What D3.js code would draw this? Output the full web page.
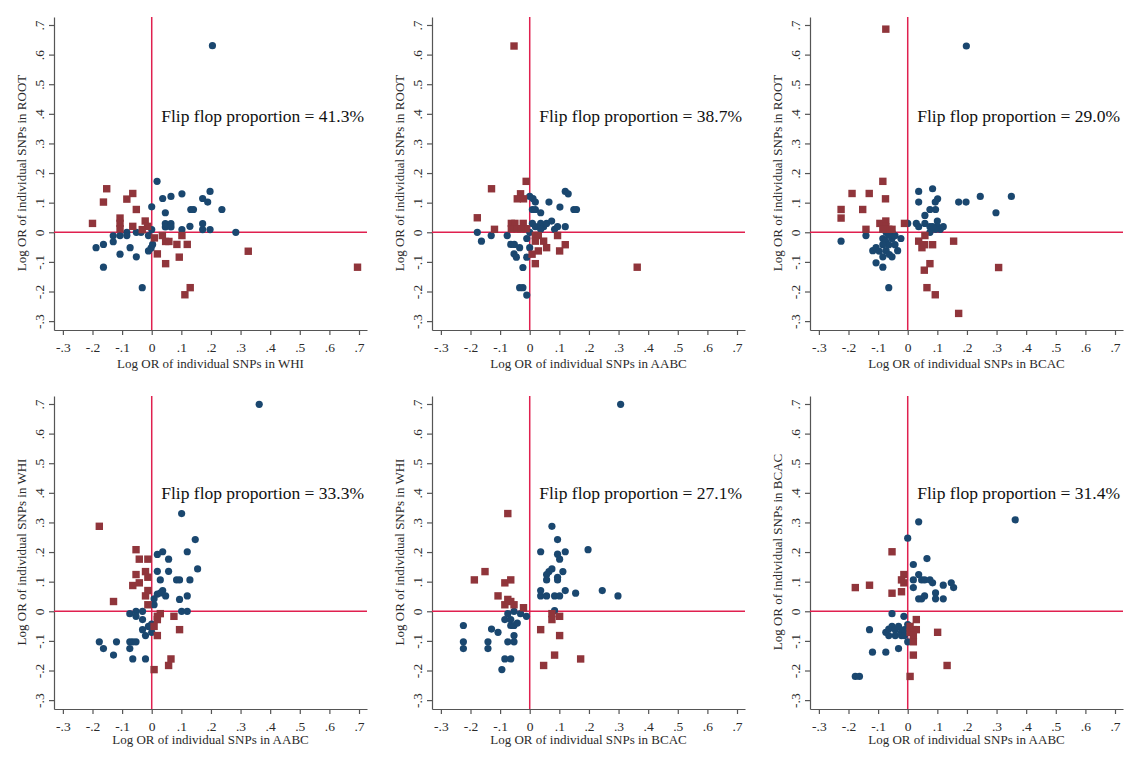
<!DOCTYPE html>
<html><head><meta charset="utf-8">
<script src="https://cdn.jsdelivr.net/npm/d3@7"></script>
<style>
html,body{margin:0;padding:0;background:#fff;}
svg text{font-family:"Liberation Serif","Times New Roman",serif;}
</style></head>
<body>
<svg id="chart" width="1136" height="758"></svg>
<script>
// ---- data ----
const tickValues = [-0.3,-0.2,-0.1,0,0.1,0.2,0.3,0.4,0.5,0.6,0.7];
const tickLabels = ["-.3","-.2","-.1","0",".1",".2",".3",".4",".5",".6",".7"];
const xTitles = ["Log OR of individual SNPs in WHI","Log OR of individual SNPs in AABC","Log OR of individual SNPs in BCAC",
                 "Log OR of individual SNPs in AABC","Log OR of individual SNPs in BCAC","Log OR of individual SNPs in AABC"];
const yTitles = ["Log OR of individual SNPs in ROOT","Log OR of individual SNPs in ROOT","Log OR of individual SNPs in ROOT",
                 "Log OR of individual SNPs in WHI","Log OR of individual SNPs in WHI","Log OR of individual SNPs in BCAC"];
const flipLabels = ["Flip flop proportion = 41.3%","Flip flop proportion = 38.7%","Flip flop proportion = 29.0%",
                    "Flip flop proportion = 33.3%","Flip flop proportion = 27.1%","Flip flop proportion = 31.4%"];

const p1Blue = [[0.205,0.63],[0.018,0.172],[0.037,0.114],[0.065,0.121],[0.102,0.13],[0,0.086],[0.046,0.066],[0.172,0.114],[0.189,0.102],[0.197,0.138],[0.237,0.077],[0.132,0.077],[0.141,0.077],[0.046,0.029],[0.065,0.029],[0.046,0.018],[0.065,0.018],[0.102,0.009],[0.129,0.02],[0.172,0.029],[0.172,0.009],[0.197,0.009],[0.284,0],[0,0.009],[-0.188,-0.052],[-0.163,-0.041],[-0.163,-0.118],[-0.13,-0.012],[-0.13,-0.032],[-0.107,-0.011],[-0.107,-0.074],[-0.084,0],[-0.084,-0.011],[-0.073,-0.052],[-0.052,-0.083],[-0.052,0],[-0.036,0],[-0.011,-0.011],[-0.011,-0.063],[-0.002,-0.053],[0.003,-0.041],[-0.032,-0.187]];
const p1Red = [[-0.152,0.147],[-0.163,0.102],[-0.2,0.03],[-0.064,0.131],[-0.084,0.112],[-0.052,0.077],[-0.107,0.048],[-0.107,0.03],[-0.107,0.012],[-0.064,0.02],[-0.022,0.038],[-0.014,0.02],[-0.032,0.009],[0.009,-0.019],[0.036,-0.011],[0.047,-0.031],[0.058,-0.031],[0.102,-0.011],[0.085,-0.041],[0.12,-0.041],[0.019,-0.073],[0.093,-0.084],[0.047,-0.106],[0.13,-0.187],[0.112,-0.211],[0.326,-0.064],[0.695,-0.118]];

const p2Blue = [[0,0.121],[0.011,0.114],[0.019,0.102],[0.065,0.102],[0.102,0.085],[0.12,0.138],[0.13,0.13],[0.149,0.077],[0.158,0.077],[0.009,0.077],[0.019,0.077],[0.037,0.066],[0.009,0.03],[0.019,0.019],[0.037,0.03],[0.047,0.019],[0.057,0.03],[0.074,0.038],[0.084,0.01],[0.094,0.019],[0.12,0.019],[0.037,0.01],[0,0],[-0.177,0],[-0.163,-0.03],[-0.13,-0.011],[-0.076,-0.011],[-0.064,-0.041],[-0.052,-0.041],[-0.034,-0.052],[-0.053,-0.073],[-0.045,-0.084],[-0.01,-0.021],[0,-0.052],[-0.01,-0.084],[-0.023,-0.119],[-0.034,-0.187],[-0.023,-0.187],[-0.01,-0.212]];
const p2Red = [[-0.053,0.629],[-0.012,0.172],[-0.129,0.147],[-0.031,0.13],[-0.042,0.113],[-0.021,0.113],[-0.177,0.049],[-0.119,0.01],[-0.062,0.03],[-0.05,0.03],[-0.062,0.012],[-0.042,0.012],[-0.022,0.03],[-0.012,0.012],[-0.03,0.012],[0.019,-0.011],[0.029,-0.011],[0.019,-0.03],[0.047,-0.03],[0.094,-0.011],[0.057,-0.052],[0.029,-0.063],[0.008,-0.074],[0.101,-0.063],[0.12,-0.042],[0.019,-0.106],[0.363,-0.118]];

const p3Blue = [[0.198,0.629],[0.037,0.138],[0.037,0.102],[0.084,0.147],[0.094,0.077],[0.101,0.113],[0.093,0.102],[0.075,0.077],[0.058,0.057],[0.172,0.102],[0.197,0.102],[0.245,0.121],[0.35,0.121],[0.298,0.066],[0,0.03],[0.029,0.03],[0.037,0.019],[0.058,0.03],[0.075,0.019],[0.075,0],[0.1,0.038],[0.1,0.019],[0.11,0.01],[0.12,0.019],[0.094,0.01],[0.084,0.019],[-0.225,-0.03],[-0.141,-0.011],[-0.118,-0.062],[-0.107,-0.103],[-0.084,-0.118],[-0.064,-0.187],[-0.023,-0.021],[-0.107,-0.052],[-0.096,-0.064],[-0.084,-0.021],[-0.084,-0.083],[-0.075,-0.03],[-0.073,-0.062],[-0.064,-0.042],[-0.053,-0.021],[-0.053,-0.083],[-0.053,0],[-0.043,-0.011],[-0.043,-0.042],[-0.034,-0.062],[-0.073,0],[-0.084,-0.042],[-0.062,-0.075],[-0.064,-0.01]];
const p3Red = [[-0.074,0.686],[-0.084,0.172],[-0.188,0.131],[-0.13,0.131],[-0.075,0.113],[-0.225,0.077],[-0.225,0.048],[-0.152,0.077],[-0.141,0.01],[-0.094,0.03],[-0.074,0.038],[-0.074,0.019],[-0.064,0.01],[-0.053,0.01],[-0.084,0.01],[-0.011,0.03],[0.037,-0.03],[0.058,-0.011],[0.048,-0.052],[0.057,-0.042],[0.084,-0.042],[0.155,-0.03],[0.056,-0.128],[0.075,-0.106],[0.065,-0.187],[0.093,-0.211],[0.172,-0.274],[0.307,-0.119]];

const p4Blue = [[0.363,0.699],[0.101,0.33],[0.147,0.242],[0.12,0.201],[0.019,0.192],[0.037,0.201],[0.057,0.176],[0.155,0.143],[0.019,0.135],[0.057,0.135],[0.029,0.106],[0.084,0.106],[0.094,0.106],[0.129,0.106],[0.094,0.04],[0.12,0.052],[0.037,0.07],[0.047,0.052],[0.019,0.058],[0.008,0.042],[0.008,0.022],[0.101,0],[0.12,0],[-0.074,-0.008],[-0.053,0],[-0.053,-0.017],[-0.031,0],[-0.031,-0.028],[-0.031,-0.062],[-0.021,-0.082],[-0.011,-0.051],[0,-0.043],[0,-0.071],[-0.177,-0.103],[-0.163,-0.126],[-0.119,-0.103],[-0.129,-0.148],[-0.074,-0.103],[-0.064,-0.103],[-0.053,-0.103],[-0.074,-0.126],[-0.064,-0.161],[-0.021,-0.161],[0.03,0.062]];
const p4Red = [[-0.177,0.287],[-0.053,0.208],[-0.042,0.176],[-0.013,0.176],[-0.053,0.124],[-0.021,0.134],[-0.013,0.115],[-0.042,0.096],[-0.064,0.087],[-0.013,0.07],[-0.021,0.052],[-0.129,0.033],[-0.013,0.022],[0.029,-0.008],[0.019,-0.017],[0.019,-0.028],[0.008,-0.051],[0.019,-0.082],[0.075,-0.017],[0.094,-0.062],[0.065,-0.161],[0.057,-0.183],[0.008,-0.197]];

const p5Blue = [[0.307,0.699],[0.075,0.287],[0.094,0.242],[0.037,0.201],[0.094,0.193],[0.101,0.176],[0.12,0.201],[0.197,0.208],[0.075,0.143],[0.065,0.134],[0.057,0.124],[0.057,0.106],[0.112,0.134],[0.094,0.115],[0.094,0.106],[0.037,0.07],[0.037,0.052],[0.057,0.052],[0.084,0.052],[0.101,0.052],[0.12,0.07],[0.155,0.061],[0.245,0.07],[0.298,0.052],[0.084,0.002],[-0.224,-0.048],[-0.224,-0.103],[-0.224,-0.126],[-0.141,-0.103],[-0.141,-0.126],[-0.129,-0.06],[-0.107,-0.071],[-0.084,-0.028],[-0.084,-0.161],[-0.064,-0.161],[-0.094,-0.197],[-0.074,-0.008],[-0.064,-0.028],[-0.053,0],[-0.064,-0.048],[-0.053,-0.048],[-0.042,-0.04],[-0.031,-0.008],[-0.011,-0.017],[-0.074,-0.103],[-0.053,-0.103],[-0.053,-0.082]];
const p5Red = [[-0.074,0.33],[-0.151,0.134],[-0.187,0.106],[-0.084,0.096],[-0.064,0.106],[-0.107,0.052],[-0.074,0.04],[-0.064,0.033],[-0.084,0.022],[-0.053,0.022],[-0.021,0.012],[0.075,-0.008],[0.075,-0.028],[0.101,-0.017],[0.037,-0.062],[0.101,-0.082],[0.084,-0.148],[0.047,-0.183],[0.172,-0.161]];

const p6Blue = [[0.363,0.309],[0.037,0.302],[0,0.247],[0.065,0.178],[0.019,0.158],[0.037,0.124],[0.047,0.106],[0.057,0.106],[0.075,0.106],[0.084,0.096],[0.019,0.106],[0.019,0.08],[0.12,0.088],[0.147,0.096],[0.155,0.08],[0.094,0.062],[0.094,0.042],[0.12,0.042],[0.037,0.042],[0.047,0.042],[0.057,0.052],[-0.053,-0.008],[-0.013,-0.017],[-0.129,-0.062],[-0.119,-0.138],[-0.074,-0.138],[-0.031,-0.126],[-0.177,-0.22],[-0.163,-0.22],[0,-0.103],[-0.074,-0.071],[-0.064,-0.06],[-0.053,-0.051],[-0.042,-0.062],[-0.031,-0.051],[-0.021,-0.071],[-0.011,-0.062],[-0.042,-0.082],[-0.021,-0.082],[-0.011,-0.082],[-0.064,-0.082],[0,-0.045]];
const p6Red = [[-0.053,0.201],[-0.013,0.124],[-0.021,0.106],[-0.013,0.096],[-0.177,0.08],[-0.129,0.088],[-0.053,0.061],[-0.021,0.066],[0.029,-0.028],[0.008,-0.051],[0.019,-0.062],[0.029,-0.062],[0.008,-0.071],[0.019,-0.082],[0.019,-0.103],[0.101,-0.071],[0.019,-0.148],[0.133,-0.183],[0.008,-0.22]];

const blueSets = [p1Blue,p2Blue,p3Blue,p4Blue,p5Blue,p6Blue];
const redSets = [p1Red,p2Red,p3Red,p4Red,p5Red,p6Red];

// ---- styles ----
const BLUE = "#1a476f", RED = "#90353b", REF = "#e0204f", AXIS = "#555", TXT = "#2a2a2a";
const panelW = 378, panelH = 379;
const plot = {left:54, right:367, top:17, bottom:330};
const domain = [-0.33, 0.727];

const svg = d3.select("#chart");
svg.append("rect").attr("width",1136).attr("height",758).attr("fill","#fff");

for (let i = 0; i < 6; i++) {
  const col = i % 3, row = Math.floor(i / 3);
  const g = svg.append("g").attr("transform", `translate(${col*panelW},${row*panelH})`);
  const x = d3.scaleLinear().domain(domain).range([plot.left, plot.right]);
  const y = d3.scaleLinear().domain(domain).range([plot.bottom, plot.top]);

  // axes
  const xa = g.append("g").attr("transform", `translate(0,${plot.bottom})`)
    .call(d3.axisBottom(x).tickValues(tickValues).tickFormat((d,k)=>tickLabels[k]).tickSize(5).tickSizeOuter(0));
  xa.selectAll("text").attr("font-size",13.5).attr("fill",TXT).attr("dy","1em")
    .attr("font-family","'Liberation Serif', serif");
  const ya = g.append("g").attr("transform", `translate(${plot.left},0)`)
    .call(d3.axisLeft(y).tickValues(tickValues).tickFormat((d,k)=>tickLabels[k]).tickSize(5).tickSizeOuter(0));
  ya.selectAll(".tick text").attr("font-size",13.5).attr("fill",TXT)
    .attr("font-family","'Liberation Serif', serif")
    .attr("x",null).attr("dy",null)
    .attr("text-anchor","middle")
    .attr("transform","translate(-10,0) rotate(-90)");
  [xa, ya].forEach(a => {
    a.selectAll("path").attr("stroke",AXIS).attr("stroke-width",1.2);
    a.selectAll("line").attr("stroke",AXIS).attr("stroke-width",1.2);
  });

  // reference lines at 0
  g.append("line").attr("x1",x(0)).attr("x2",x(0)).attr("y1",y(domain[1])).attr("y2",y(domain[0]))
    .attr("stroke",REF).attr("stroke-width",1.5);
  g.append("line").attr("x1",x(domain[0])).attr("x2",x(domain[1])).attr("y1",y(0)).attr("y2",y(0))
    .attr("stroke",REF).attr("stroke-width",1.5);

  // points
  g.append("g").selectAll("circle").data(blueSets[i]).join("circle")
    .attr("cx",d=>x(d[0])).attr("cy",d=>y(d[1])).attr("r",3.6).attr("fill",BLUE);
  const s = 7.4;
  g.append("g").selectAll("rect").data(redSets[i]).join("rect")
    .attr("x",d=>x(d[0])-s/2).attr("y",d=>y(d[1])-s/2).attr("width",s).attr("height",s).attr("fill",RED);

  // annotation
  g.append("text").attr("x",x(0)+9.5).attr("y",121.5 - (row ? 1.5 : 0))
    .attr("font-size",17.5).attr("fill","#111").text(flipLabels[i]);

  // titles
  g.append("text").attr("x",(plot.left+plot.right)/2).attr("y",367.5 - (row ? 3 : 0))
    .attr("text-anchor","middle").attr("font-size",13).attr("fill",TXT).text(xTitles[i]);
  g.append("text").attr("transform",`translate(26,173) rotate(-90)`)
    .attr("text-anchor","middle").attr("font-size",13).attr("fill",TXT).text(yTitles[i]);
}
</script>
</body></html>
